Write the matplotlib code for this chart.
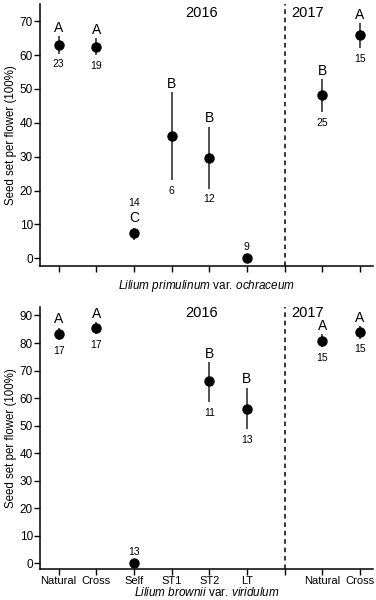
import numpy as np
import matplotlib.pyplot as plt

plt.rcParams['font.family'] = ['Liberation Sans', 'DejaVu Sans']
plt.rcParams['mathtext.fontset'] = 'custom'
plt.rcParams['mathtext.it'] = 'Liberation Sans:italic'
plt.rcParams['mathtext.rm'] = 'Liberation Sans'

# positions 1-6 = 2016 treatments, 8-9 = 2017 treatments
positions = [1, 2, 3, 4, 5, 6, 8, 9]
tick_labels = ['Natural', 'Cross', 'Self', 'ST1', 'ST2', 'LT', 'Natural', 'Cross']

# Lilium primulinum var. ochraceum
prim_mean = [63.1, 62.5, 7.4, 36.0, 29.5, 0.0, np.nan, 48.1, 65.8]
prim_lo = [60.4, 59.9, 5.4, 23.1, 20.6, 0.0, np.nan, 43.2, 62.0]
prim_hi = [65.5, 65.0, 9.1, 49.1, 38.8, 0.0, np.nan, 52.8, 69.4]
prim_letters = ['A', 'A', 'C', 'B', 'B', '', '', 'B', 'A']
prim_n = ['23', '19', '14', '6', '12', '9', '', '25', '15']

# Lilium brownii var. viridulum
brow_mean = [83.4, 85.5, 0.0, np.nan, 66.1, 56.2, np.nan, 80.9, 83.9]
brow_lo = [81.0, 83.2, 0.0, np.nan, 58.6, 48.6, np.nan, 78.4, 81.6]
brow_hi = [85.6, 87.6, 0.0, np.nan, 73.1, 63.8, np.nan, 83.2, 86.2]
brow_letters = ['A', 'A', '', '', 'B', 'B', '', 'A', 'A']
brow_n = ['17', '17', '13', '', '11', '13', '', '15', '15']

all_pos = np.arange(1, 10)
MS = 6.5


def draw_panel(ax, mean, lo, hi, letters, ns, ylim, yticks, xlabel, show_labels, year_y):
    ax.set_xlim(0.5, 9.35)
    ax.set_ylim(*ylim)
    ax.set_yticks(yticks)
    ax.set_xticks(list(range(1, 10)))
    if show_labels:
        ax.set_xticklabels(tick_labels[:6] + [''] + tick_labels[6:], fontsize=8)
    else:
        ax.set_xticklabels([''] * 9)
    ax.tick_params(axis='y', labelsize=8.5, length=4, width=1, pad=1)
    ax.tick_params(axis='x', length=4, width=1, pad=1)
    for s in ['top', 'right']:
        ax.spines[s].set_visible(False)
    for s in ['left', 'bottom']:
        ax.spines[s].set_linewidth(1.1)
    ax.set_ylabel('Seed set per flower (100%)', fontsize=8.3, labelpad=2)
    ax.set_xlabel(xlabel, fontsize=8.5, labelpad=-0.5 if show_labels else 4)
    ax.axvline(7, color='black', linestyle=(0, (3, 2.5)), linewidth=1.1)

    ax.vlines(all_pos, lo, hi, color='#333333', linewidth=1.2)
    ax.plot(all_pos, mean, 'o', color='black', markersize=MS, linestyle='none')

    # points per data unit for label offsets
    fig = ax.figure
    h_pt = ax.get_position().height * fig.get_figheight() * 72
    per_unit = h_pt / (ylim[1] - ylim[0])
    r = MS / 2
    for x, m, l, h, let, n in zip(all_pos, mean, lo, hi, letters, ns):
        if np.isnan(m):
            continue
        top_off = max(0, r - (h - m) * per_unit)
        bot_off = max(0, r - (m - l) * per_unit)
        if m == 0:
            ax.annotate(n, (x, h), xytext=(0, top_off + 1.5), textcoords='offset points',
                        ha='center', va='bottom', fontsize=7.5)
            continue
        if x == 3 and let:
            ax.annotate(let, (x, h), xytext=(0, top_off + 2), textcoords='offset points',
                        ha='center', va='bottom', fontsize=10)
            ax.annotate(n, (x, h), xytext=(0, top_off + 14), textcoords='offset points',
                        ha='center', va='bottom', fontsize=7.5)
            continue
        if let:
            ax.annotate(let, (x, h), xytext=(0, top_off + 1), textcoords='offset points',
                        ha='center', va='bottom', fontsize=10)
        ax.annotate(n, (x, l), xytext=(0, -bot_off - 4), textcoords='offset points',
                    ha='center', va='top', fontsize=7.5)

    ax.text(4.8, year_y, '2016', ha='center', va='baseline', fontsize=10.5,
            transform=ax.get_xaxis_transform())
    ax.text(7.6, year_y, '2017', ha='center', va='baseline', fontsize=10.5,
            transform=ax.get_xaxis_transform())


fig = plt.figure(figsize=(3.76, 6.0), dpi=100)
ax1 = fig.add_axes([0.106, 0.557, 0.886, 0.436])
ax2 = fig.add_axes([0.106, 0.051, 0.886, 0.437])

draw_panel(ax1, prim_mean, prim_lo, prim_hi, prim_letters, prim_n, (-2.2, 75),
           [0, 10, 20, 30, 40, 50, 60, 70],
           r'$\mathit{Lilium\ primulinum}$ var. $\mathit{ochraceum}$', False, 0.951)
draw_panel(ax2, brow_mean, brow_lo, brow_hi, brow_letters, brow_n, (-2.2, 93),
           [0, 10, 20, 30, 40, 50, 60, 70, 80, 90],
           r'$\mathit{Lilium\ brownii}$ var. $\mathit{viridulum}$', True, 0.964)

fig.savefig('out.png', dpi=100)
